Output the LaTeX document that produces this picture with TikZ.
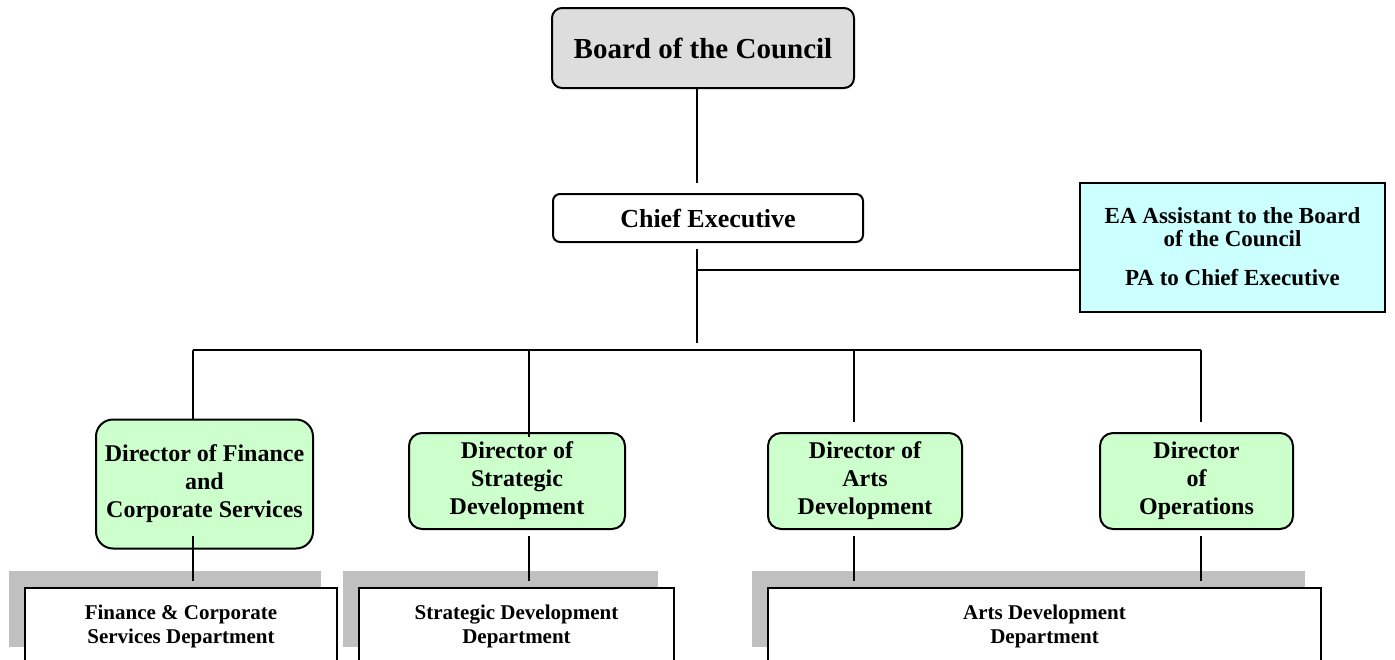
\documentclass[tikz,border=0pt]{standalone}
\usepackage{fontspec}
\setmainfont{Liberation Serif}
\usetikzlibrary{positioning,shadows}
\definecolor{boardgrey}{RGB}{221,221,221}
\definecolor{dirgreen}{RGB}{204,255,204}
\definecolor{eacyan}{RGB}{204,255,255}
\definecolor{shadowgrey}{RGB}{192,192,192}

\begin{document}
\begin{tikzpicture}[x=0.5pt,y=-0.5pt,
  orgbox/.style={draw=black,line width=1pt,align=center,inner sep=2pt},
  boardbox/.style={orgbox,fill=boardgrey,rounded corners=5pt,
    minimum width=151pt,minimum height=40pt,font=\fontsize{14.5}{17}\selectfont\bfseries},
  chiefbox/.style={orgbox,fill=white,rounded corners=3.5pt,
    minimum width=155pt,minimum height=24pt,font=\fontsize{13}{15}\selectfont\bfseries},
  eabox/.style={orgbox,fill=eacyan,minimum width=152.5pt,minimum height=64.5pt,
    font=\fontsize{11.5}{11.5}\selectfont\bfseries},
  dirbox/.style={orgbox,fill=dirgreen,rounded corners=6.5pt,minimum height=48pt,
    font=\fontsize{12}{14}\selectfont\bfseries},
  deptbox/.style={orgbox,fill=white,minimum height=38pt,
    font=\fontsize{10.5}{12}\selectfont\bfseries,
    general shadow={fill=shadowgrey,shadow xshift=-8pt,shadow yshift=8.5pt}},
  link/.style={draw=black,line width=1pt}]
\clip (0,0) rectangle (1395,659);
% top of the chart
\node[boardbox] (board) at (703,48) {Board of the Council};
\node[chiefbox] (chief) at (708,218) {Chief Executive};
\node[eabox] (assist) at (1232.5,247)
  {EA Assistant to the Board\\of the Council\\[8pt]PA to Chief Executive};
% directors
\node[dirbox,minimum width=108.5pt,minimum height=64.5pt,rounded corners=8.5pt]
  (dirfinance) at (204.5,484) {Director of Finance\\and\\Corporate Services};
\node[dirbox,minimum width=108pt] (dirstrategy) at (517,481) {Director of\\Strategic\\Development};
\node[dirbox,minimum width=97pt] (dirarts) at (865,481) {Director of\\Arts\\Development};
\node[dirbox,minimum width=96.5pt] (dirops) at (1196.5,481) {Director\\of\\Operations};
% departments
\node[deptbox,minimum width=156pt] (deptfinance) at (181,626)
  {Finance \& Corporate\\Services Department};
\node[deptbox,minimum width=157.5pt] (deptstrategy) at (516.5,626)
  {Strategic Development\\Department};
\node[deptbox,minimum width=276.5pt] (deptarts) at (1044.5,626)
  {Arts Development\\Department};
% joints of the lines
\coordinate (spine) at (697,350);
\coordinate (eajoin) at (697,270);
\coordinate (finjoin) at (193,350);
\coordinate (stratjoin) at (529,350);
\coordinate (artsjoin) at (854,350);
\coordinate (opsjoin) at (1201,350);
\draw[link,shorten >=5pt] (board.south -| spine) -- (chief.north -| spine);
\draw[link,shorten <=3pt,shorten >=3.5pt] (chief.south -| spine) -- (spine);
\draw[link] (eajoin) -- (eajoin -| assist.west);
\draw[link] (finjoin) -- (opsjoin);
\draw[link] (finjoin) -- (finjoin |- dirfinance.north);
\draw[link,shorten >=-2.5pt] (stratjoin) -- (stratjoin |- dirstrategy.north);
\draw[link,shorten >=5pt] (artsjoin) -- (artsjoin |- dirarts.north);
\draw[link,shorten >=5pt] (opsjoin) -- (opsjoin |- dirops.north);
\draw[link,shorten <=-7pt,shorten >=3pt] (dirfinance.south -| finjoin) -- (deptfinance.north -| finjoin);
\draw[link,shorten <=3pt,shorten >=3pt] (dirstrategy.south -| stratjoin) -- (deptstrategy.north -| stratjoin);
\draw[link,shorten <=3pt,shorten >=3pt] (dirarts.south -| artsjoin) -- (deptarts.north -| artsjoin);
\draw[link,shorten <=3pt,shorten >=3pt] (dirops.south -| opsjoin) -- (deptarts.north -| opsjoin);
\end{tikzpicture}
\end{document}
